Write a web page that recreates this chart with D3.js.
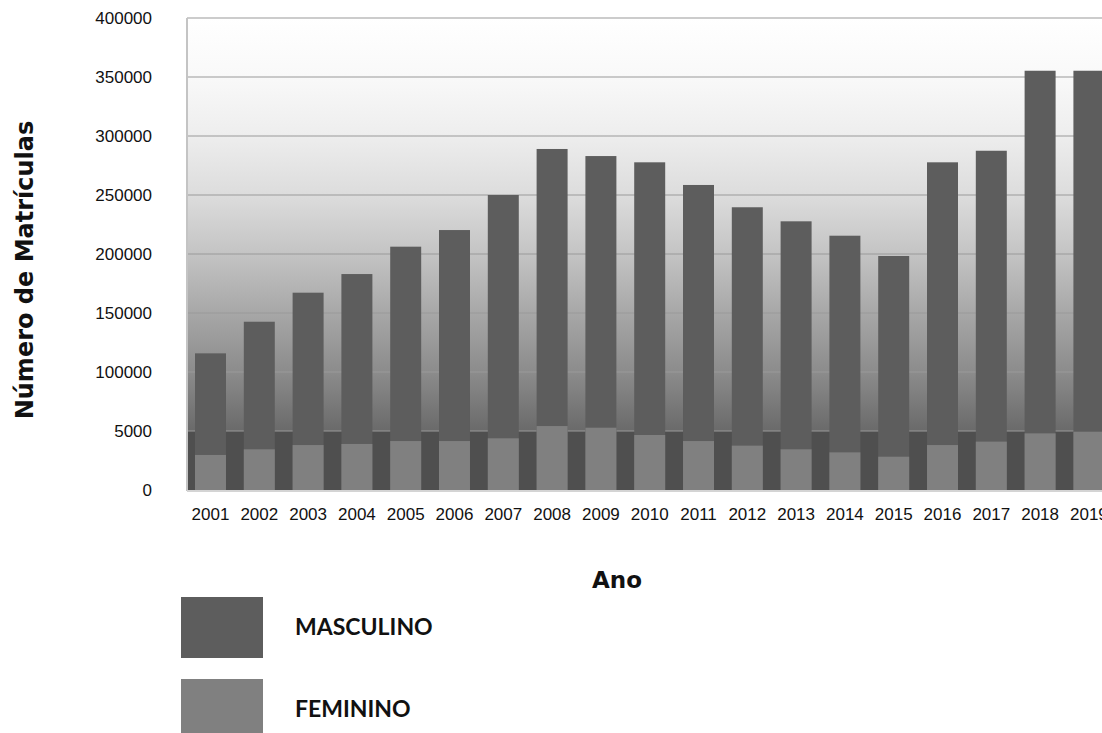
<!DOCTYPE html>
<html>
<head>
<meta charset="utf-8">
<script src="https://cdn.jsdelivr.net/npm/d3@7"></script>
<style>
  html, body { margin: 0; padding: 0; background: #ffffff; }
  svg { display: block; }
</style>
</head>
<body>
<svg id="chart" width="1102" height="733"></svg>
<script>
// Matrículas por ano, separadas por sexo
const years = ["2001", "2002", "2003", "2004", "2005", "2006", "2007", "2008", "2009", "2010",
               "2011", "2012", "2013", "2014", "2015", "2016", "2017", "2018", "2019"];
const masculino = [115800, 142600, 167200, 183000, 206200, 220300, 250000, 289000, 283000, 277700,
                   258500, 239600, 227700, 215500, 198300, 277700, 287500, 355300, 355300];
const feminino = [29700, 34500, 38100, 39000, 41500, 41500, 43800, 54200, 52800, 46600,
                  41500, 37600, 34500, 31900, 28200, 38100, 41000, 48000, 49400];
const yTicks = [0, 50000, 100000, 150000, 200000, 250000, 300000, 350000, 400000];
const yTickLabels = ["0", "5000", "100000", "150000", "200000", "250000", "300000", "350000", "400000"];
const seriesNames = ["MASCULINO", "FEMININO"];

const colors = { MASCULINO: "#5d5d5d", FEMININO: "#808080" };

const svg = d3.select("#chart");
const plot = { left: 187, top: 18, bottom: 490 };

const x = d3.scaleBand()
  .domain(years)
  .range([plot.left, 1112.4])
  .paddingInner(0.365)
  .paddingOuter(0.164);

const y = d3.scaleLinear()
  .domain([0, 400000])
  .range([plot.bottom, plot.top]);

const plotRight = x.range()[1];

// Background gradient of the plot area
const defs = svg.append("defs");
const grad = defs.append("linearGradient")
  .attr("id", "bg")
  .attr("gradientUnits", "userSpaceOnUse")
  .attr("x1", 0).attr("x2", 0)
  .attr("y1", y(400000)).attr("y2", y(yTicks[1]));
[[0, "#ffffff"], [0.14, "#f9f9f9"], [0.28, "#eeeeee"], [0.43, "#dcdcdc"], [0.57, "#c4c4c4"],
 [0.71, "#a8a8a8"], [0.86, "#8b8b8b"], [1, "#6a6a6a"]]
  .forEach(([o, c]) => grad.append("stop").attr("offset", o).attr("stop-color", c));

svg.append("rect")
  .attr("x", plot.left).attr("y", y(400000))
  .attr("width", plotRight - plot.left)
  .attr("height", y(yTicks[1]) - y(400000))
  .attr("fill", "url(#bg)");

// Dark floor band below the first gridline
svg.append("rect")
  .attr("x", plot.left).attr("y", y(yTicks[1]))
  .attr("width", plotRight - plot.left)
  .attr("height", y(0) - y(yTicks[1]))
  .attr("fill", "#4f4f4f");

// Gridlines
svg.append("g")
  .selectAll("line")
  .data(yTicks.slice(1))
  .join("line")
  .attr("x1", plot.left).attr("x2", plotRight)
  .attr("y1", d => y(d)).attr("y2", d => y(d))
  .attr("stroke", "#9a9a9a")
  .attr("stroke-opacity", 0.5)
  .attr("stroke-width", 2);

// Masculino bars (from zero)
svg.append("g")
  .selectAll("rect")
  .data(years.map((yr, i) => ({ yr, v: masculino[i] })))
  .join("rect")
  .attr("x", d => x(d.yr))
  .attr("width", x.bandwidth())
  .attr("y", d => y(d.v))
  .attr("height", d => y(0) - y(d.v))
  .attr("fill", colors.MASCULINO);

// Feminino bars in front
svg.append("g")
  .selectAll("rect")
  .data(years.map((yr, i) => ({ yr, v: feminino[i] })))
  .join("rect")
  .attr("x", d => x(d.yr))
  .attr("width", x.bandwidth())
  .attr("y", d => y(d.v))
  .attr("height", d => y(0) - y(d.v))
  .attr("fill", colors.FEMININO);

// Axis frame lines
svg.append("line")
  .attr("x1", plot.left).attr("x2", plot.left)
  .attr("y1", y(400000)).attr("y2", y(0) + 1)
  .attr("stroke", "#c4c4c4").attr("stroke-width", 2);
svg.append("line")
  .attr("x1", plot.left).attr("x2", plotRight)
  .attr("y1", y(0) + 1).attr("y2", y(0) + 1)
  .attr("stroke", "#d4d4d4").attr("stroke-width", 2);

// Y axis labels
const yAxis = d3.axisLeft(y)
  .tickValues(yTicks)
  .tickFormat((d, i) => yTickLabels[i])
  .tickSize(0)
  .tickPadding(35);
const gy = svg.append("g").attr("transform", `translate(${plot.left},0)`).call(yAxis);
gy.select(".domain").remove();
gy.selectAll("text")
  .attr("font-family", "'Liberation Sans', Arial, sans-serif")
  .attr("font-size", 17)
  .attr("fill", "#111");

// X axis labels
const xAxis = d3.axisBottom(x).tickSize(0).tickPadding(18);
const gx = svg.append("g").attr("transform", `translate(0,${plot.bottom})`).call(xAxis);
gx.select(".domain").remove();
gx.selectAll("text")
  .attr("font-family", "'Liberation Sans', Arial, sans-serif")
  .attr("font-size", 17)
  .attr("fill", "#111");

// Axis titles
svg.append("text")
  .attr("x", 617).attr("y", 588)
  .attr("text-anchor", "middle")
  .attr("font-family", "'DejaVu Sans', Verdana, sans-serif")
  .attr("font-weight", "bold")
  .attr("font-size", 23)
  .attr("fill", "#111")
  .text("Ano");

svg.append("text")
  .attr("transform", "translate(33,270) rotate(-90)")
  .attr("text-anchor", "middle")
  .attr("font-family", "'DejaVu Sans', Verdana, sans-serif")
  .attr("font-weight", "bold")
  .attr("font-size", 24)
  .attr("fill", "#111")
  .text("Número de Matrículas");

// Legend
const legend = svg.append("g");
const legendRows = legend.selectAll("g")
  .data(seriesNames)
  .join("g")
  .attr("transform", (d, i) => `translate(181,${597 + i * 82})`);
legendRows.append("rect")
  .attr("width", 82).attr("height", 61)
  .attr("fill", d => colors[d]);
legendRows.append("text")
  .attr("x", 114).attr("y", 38)
  .attr("font-family", "Lato, 'Open Sans', sans-serif")
  .attr("font-weight", "bold")
  .attr("font-size", 23)
  .attr("fill", "#111")
  .text(d => d);
</script>
</body>
</html>
